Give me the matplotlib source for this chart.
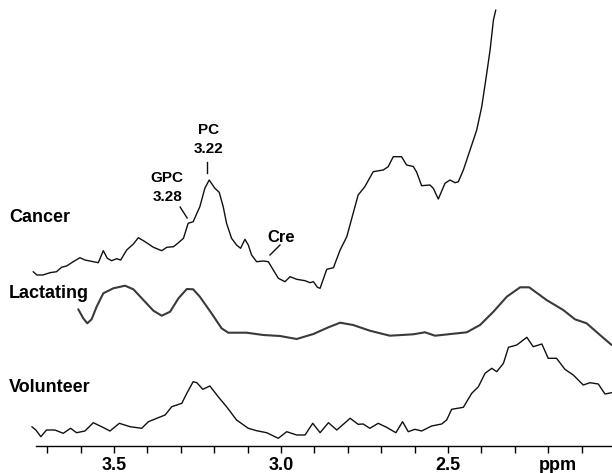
import matplotlib
matplotlib.use("Agg")
import matplotlib.pyplot as plt
from matplotlib.ticker import FixedLocator
import numpy as np

plt.rcParams['font.family'] = ['Liberation Sans', 'DejaVu Sans']

# ---- data (chemical shift in ppm, intensity in arbitrary units) ----
cancer_ppm = [3.742, 3.731, 3.713, 3.692, 3.672, 3.657, 3.642, 3.622, 3.602, 3.587,
              3.562, 3.547, 3.532, 3.520, 3.507, 3.492, 3.480, 3.462, 3.442, 3.427,
              3.407, 3.382, 3.357, 3.342, 3.322, 3.307, 3.292, 3.278, 3.263, 3.243,
              3.228, 3.215, 3.198, 3.185, 3.173, 3.163, 3.148, 3.133, 3.121, 3.108,
              3.098, 3.088, 3.073, 3.053, 3.038, 3.023, 3.008, 2.988, 2.973, 2.953,
              2.928, 2.913, 2.903, 2.891, 2.883, 2.863, 2.843, 2.823, 2.803, 2.784,
              2.769, 2.749, 2.724, 2.694, 2.679, 2.664, 2.639, 2.624, 2.604, 2.594,
              2.579, 2.554, 2.544, 2.529, 2.509, 2.494, 2.479, 2.469, 2.454, 2.434,
              2.414, 2.399, 2.384, 2.374, 2.364, 2.357]
cancer_int = [18.3, 15, 15, 17.3, 18.3, 22.7, 24, 28.3, 32.3, 30,
              28.3, 27.3, 39.3, 31.7, 29.3, 31.3, 30, 40, 46, 52.3,
              48.3, 42.7, 39.3, 42.7, 43.3, 47.3, 51.7, 66.7, 68.3, 83.3,
              101.7, 110, 101.7, 97.7, 83.3, 66.7, 51.7, 45, 41.7, 50.7,
              45, 35, 28.3, 29, 28.3, 20, 11.7, 8.3, 13.3, 10.7,
              9.3, 7.3, 8.3, 2.7, 1.7, 20.7, 22.3, 40, 53.3, 76.7,
              95, 103.3, 118.3, 120, 123.3, 133.3, 133.3, 125, 123.5, 118,
              104.3, 105, 101.7, 91, 106.7, 110, 107.3, 108.3, 120, 140,
              160, 183.3, 216.7, 240, 270, 280]

lact_ppm = [3.607, 3.592, 3.580, 3.567, 3.552, 3.532, 3.502, 3.467, 3.442, 3.412,
            3.382, 3.357, 3.332, 3.307, 3.282, 3.263, 3.243, 3.208, 3.178, 3.158,
            3.103, 3.053, 3.003, 2.953, 2.903, 2.858, 2.823, 2.784, 2.734, 2.674,
            2.604, 2.569, 2.539, 2.444, 2.404, 2.364, 2.324, 2.284, 2.257, 2.205,
            2.155, 2.120, 2.085, 2.045, 2.010]
lact_int = [35.7, 26.7, 21.7, 25.7, 38.3, 51.7, 56.7, 59.3, 55.7, 45,
            34.3, 29.3, 33.3, 46.7, 56, 55.7, 48.3, 31.7, 16.7, 12.3,
            12.3, 10, 9, 6, 11, 17.7, 22.3, 20, 14.3, 9.3,
            10.7, 12.7, 9.3, 12.7, 20, 33.3, 48.3, 57.7, 57.7, 45,
            35, 25.7, 21.7, 10, 0]

vol_ppm = [3.746, 3.734, 3.719, 3.702, 3.677, 3.652, 3.630, 3.612, 3.587, 3.562,
           3.537, 3.512, 3.484, 3.452, 3.417, 3.397, 3.372, 3.347, 3.327, 3.297,
           3.282, 3.263, 3.252, 3.234, 3.213, 3.188, 3.163, 3.133, 3.098, 3.073,
           3.043, 3.008, 2.983, 2.953, 2.928, 2.905, 2.883, 2.858, 2.833, 2.793,
           2.769, 2.754, 2.734, 2.709, 2.684, 2.656, 2.636, 2.619, 2.599, 2.579,
           2.549, 2.519, 2.504, 2.489, 2.454, 2.429, 2.409, 2.389, 2.369, 2.354,
           2.334, 2.319, 2.294, 2.264, 2.245, 2.219, 2.200, 2.175, 2.150, 2.125,
           2.095, 2.075, 2.050, 2.030, 2.010]
vol_int = [13.3, 10, 3.3, 10, 10, 6.7, 11.7, 7.3, 9, 17.3,
           13.3, 9, 16.7, 13.3, 11.7, 18.3, 21.7, 25, 33.3, 36.7,
           46.7, 58.3, 57.3, 50.7, 54, 43.3, 33.3, 20, 11.7, 9.3,
           7.3, 1.7, 8.3, 5, 5, 16.7, 7.3, 17.3, 10, 21.7,
           15.7, 16, 11.7, 16.7, 12.7, 7.3, 18.3, 8.3, 10.7, 9,
           14, 16, 20, 30.7, 32.7, 46.7, 53.3, 66.7, 71.7, 68.3,
           76.7, 92.7, 95, 102.7, 93.3, 96, 81.7, 81.7, 70.7, 65,
           55, 57.3, 56, 46, 47.3]

offsets = {'Cancer': 183, 'Lactating': 128, 'Volunteer': 33}
major_ticks = [3.5, 3.0, 2.5]
major_labels = ['3.5', '3.0', '2.5']
minor_ticks = [3.7, 3.6, 3.4, 3.3, 3.2, 3.1, 2.9, 2.8, 2.7, 2.6, 2.4, 2.3, 2.2, 2.1]

# ---- figure ----
fig = plt.figure(figsize=(6.12, 4.73), dpi=100)
ax = fig.add_axes([0, 0, 1, 1])
ax.set_xlim(3.8413, 2.0090)
ax.set_ylim(0, 473)

kw = dict(solid_joinstyle='round', solid_capstyle='round')
ax.plot(cancer_ppm, np.array(cancer_int) + offsets['Cancer'], color='#111111', lw=1.0, **kw)
ax.plot(lact_ppm, np.array(lact_int) + offsets['Lactating'], color='#3a3a3a', lw=1.5, **kw)
ax.plot(vol_ppm, np.array(vol_int) + offsets['Volunteer'], color='#111111', lw=1.0, **kw)

# axis
for s in ['top', 'left', 'right']:
    ax.spines[s].set_visible(False)
ax.spines['bottom'].set_position(('data', 27))
ax.spines['bottom'].set_bounds(3.733, 2.009)
ax.spines['bottom'].set_linewidth(1.0)
ax.xaxis.set_major_locator(FixedLocator(major_ticks))
ax.set_xticklabels(major_labels, fontsize=13, fontweight='bold')
ax.xaxis.set_minor_locator(FixedLocator(minor_ticks))
ax.tick_params(axis='x', which='both', direction='out', length=5, width=1.0, pad=3)
ax.set_yticks([])

ax.text(2.17, 8, 'ppm', fontsize=13, fontweight='bold', ha='center', va='center')

# trace labels
ax.text(3.8143, 473 - 218, 'Cancer', fontsize=13, fontweight='bold', ha='left', va='center')
ax.text(3.8143, 473 - 293, 'Lactating', fontsize=13, fontweight='bold', ha='left', va='center')
ax.text(3.8143, 473 - 387, 'Volunteer', fontsize=13, fontweight='bold', ha='left', va='center')

# peak annotations
ax.text(3.218, 473 - 130, 'PC', fontsize=11, fontweight='bold', ha='center', va='center')
ax.text(3.218, 473 - 149, '3.22', fontsize=11, fontweight='bold', ha='center', va='center')
ax.plot([3.221, 3.221], [473 - 162, 473 - 173], color='#111111', lw=1.0)

ax.text(3.341, 473 - 178, 'GPC', fontsize=11, fontweight='bold', ha='center', va='center')
ax.text(3.341, 473 - 197, '3.28', fontsize=11, fontweight='bold', ha='center', va='center')
ax.plot([3.302, 3.281], [473 - 207, 473 - 218], color='#111111', lw=1.0)

ax.text(3.0, 473 - 237, 'Cre', fontsize=12, fontweight='bold', ha='center', va='center')
ax.plot([3.003, 3.033], [473 - 245, 473 - 255], color='#111111', lw=1.0)

fig.savefig('out.png', dpi=100)
